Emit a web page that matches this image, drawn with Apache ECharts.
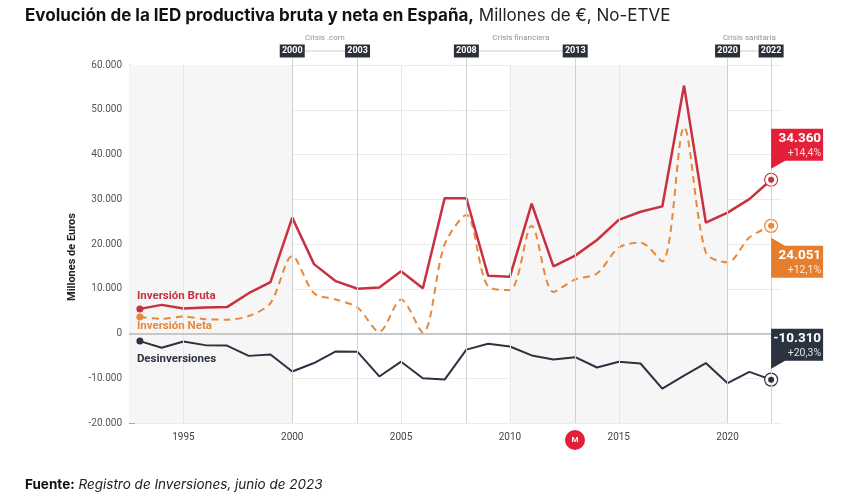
<!DOCTYPE html>
<html>
<head>
<meta charset="utf-8">
<script src="https://cdn.jsdelivr.net/npm/echarts@6/dist/echarts.min.js"></script>
<style>
html, body { margin: 0; padding: 0; background: #fff; }
#chart { width: 849px; height: 501px; }
</style>
</head>
<body>
<div id="chart"></div>
<script>
/** --------datos (millones de euros) ------ */
var years = [1993, 1994, 1995, 1996, 1997, 1998, 1999, 2000, 2001, 2002,
    2003, 2004, 2005, 2006, 2007, 2008, 2009, 2010, 2011, 2012,
    2013, 2014, 2015, 2016, 2017, 2018, 2019, 2020, 2021, 2022];
var bruta = [5500, 6400, 5600, 5800, 5900, 9000, 11500, 25900, 15500, 11700,
    10000, 10300, 13900, 10100, 30200, 30200, 12900, 12700, 29000, 15000,
    17400, 20900, 25400, 27200, 28400, 55400, 24800, 27000, 30035, 34360];
var neta = [3700, 3300, 3800, 3200, 3100, 3900, 6800, 17300, 9000, 7600,
    5800, 400, 7600, 200, 19900, 26500, 10500, 9700, 24100, 9300,
    12100, 13400, 19200, 20300, 16100, 46100, 18100, 15900, 21455, 24051];
var desinversiones = [-1700, -3200, -1800, -2600, -2700, -5000, -4700, -8500, -6600, -4000,
    -4100, -9600, -6300, -10000, -10300, -3600, -2300, -2900, -4900, -5800,
    -5300, -7600, -6300, -6700, -12300, -9400, -6600, -11100, -8570, -10310];
var variacion = ['+14,4%', '+12,1%', '+20,3%'];

var xTicks = [1995, 2000, 2005, 2010, 2015, 2020];
var gridYears = [1995, 2005, 2010, 2015];
var eventYears = [2000, 2003, 2008, 2013, 2020, 2022];
var crisisNames = ['Crisis .com', 'Crisis financiera', 'Crisis sanitaria'];
var crisisStart = [2000, 2008, 2020];
var crisisEnd = [2003, 2013, 2022];
var crisisMid = [2001.5, 2010.5, 2021];
var shadedDecades = [[1992.501, 2000], [2010, 2020]];

var ROJO = '#c8313f', ROJO_CAJA = '#e2203a';
var NARANJA = '#e8883a', NARANJA_CAJA = '#e67e2e';
var OSCURO = '#2b3240';
var FONT = 'Roboto';

function fmtNum(v) {
    var s = String(Math.abs(Math.round(v))).replace(/\B(?=(\d{3})+(?!\d))/g, '.');
    return (v < 0 ? '-' : '') + s;
}

function pairs(arr) {
    var out = [];
    for (var i = 0; i < arr.length; i++) {
        out.push([years[i], arr[i]]);
    }
    return out;
}

/** --------datos de la serie con primer y ultimo punto marcados ------ */
function lineData(arr, color) {
    var d = pairs(arr);
    d[0] = { value: d[0], symbol: 'circle', symbolSize: 7, itemStyle: { color: color } };
    var n = d.length - 1;
    d[n] = {
        value: d[n], symbol: 'circle', symbolSize: 13,
        itemStyle: { color: '#fff', borderColor: color, borderWidth: 1.2, opacity: 1 }
    };
    return d;
}

// forma de la caja con pico abajo / arriba
var CAJA_ABAJO = 'path://M0,0 L52,0 L52,32 L14,32 L0,40 Z';
var CAJA_ARRIBA = 'path://M0,0 L14,8 L52,8 L52,40 L0,40 Z';

function markers(arr, color, cajaColor, idx, nombre, nombreOffset, up) {
    var last = arr.length - 1;
    var lastCoord = [years[last], arr[last]];
    return {
        silent: true,
        animation: false,
        data: [
            {   // punto interior
                coord: lastCoord, symbol: 'circle', symbolSize: 6,
                itemStyle: { color: color }, label: { show: false }
            },
            {   // caja con valor final
                coord: lastCoord,
                symbol: up ? CAJA_ARRIBA : CAJA_ABAJO,
                symbolSize: [52, 40],
                symbolOffset: up ? [26, 32] : [26, -31],
                itemStyle: { color: cajaColor },
                label: {
                    show: true,
                    position: up ? [50, 10] : [50, 2],
                    align: 'right',
                    verticalAlign: 'top',
                    formatter: '{a|' + fmtNum(arr[last]) + '}\n{b|' + variacion[idx] + '}',
                    rich: {
                        a: { fontFamily: FONT, fontSize: 13.5, fontWeight: 'bold', color: '#fff', lineHeight: 16, align: 'right' },
                        b: { fontFamily: FONT, fontSize: 10.5, color: 'rgba(255,255,255,0.85)', lineHeight: 13, align: 'right' }
                    }
                }
            },
            {   // nombre de la serie al inicio
                coord: [years[0], arr[0]], symbol: 'circle', symbolSize: 1,
                itemStyle: { color: 'rgba(0,0,0,0)' },
                label: {
                    show: true, position: 'inside', align: 'left', verticalAlign: 'middle',
                    offset: nombreOffset, formatter: nombre,
                    fontFamily: FONT, fontSize: 11.5, fontWeight: 'bold', color: color
                }
            }
        ]
    };
}

/** --------lineas de fondo ------ */
function fondoSeries() {
    var areas = [];
    for (var i = 0; i < shadedDecades.length; i++) {
        areas.push([{ xAxis: shadedDecades[i][0] }, { xAxis: shadedDecades[i][1] }]);
    }
    var lines = [];
    for (var j = 0; j < gridYears.length; j++) {
        lines.push({ xAxis: gridYears[j], lineStyle: { color: '#e8e8e8', width: 1, type: 'solid' } });
    }
    for (var k = 0; k < eventYears.length; k++) {
        lines.push({ xAxis: eventYears[k], lineStyle: { color: '#d2d2d2', width: 1, type: 'solid' } });
    }
    lines.push({ yAxis: 0, lineStyle: { color: '#b8b8b8', width: 1.5, type: 'solid' } });
    return {
        name: 'fondo', type: 'line', data: [], z: 1, silent: true,
        markArea: { silent: true, itemStyle: { color: '#f6f6f6' }, data: areas },
        markLine: { silent: true, symbol: 'none', label: { show: false }, animation: false, data: lines }
    };
}

/** --------anotaciones de crisis (rejilla superior) ------ */
function crisisSeries() {
    var out = [];
    for (var i = 0; i < crisisNames.length; i++) {
        out.push({
            type: 'line', xAxisIndex: 1, yAxisIndex: 1, symbol: 'none', silent: true,
            data: [[crisisStart[i], 0.4], [crisisEnd[i], 0.4]],
            lineStyle: { color: '#9a9a9a', width: 1, type: 'dotted' }, z: 3
        });
    }
    var cajas = [], bajadas = [];
    for (var j = 0; j < eventYears.length; j++) {
        cajas.push([eventYears[j], 0.4]);
        bajadas.push([{ coord: [eventYears[j], 0] }, { coord: [eventYears[j], 0.2] }]);
    }
    out.push({
        type: 'scatter', xAxisIndex: 1, yAxisIndex: 1, silent: true, z: 5,
        data: cajas, symbol: 'rect', symbolSize: [25, 13],
        itemStyle: { color: '#2a2f3a', opacity: 1 },
        label: {
            show: true, position: 'inside', color: '#fff', fontFamily: FONT,
            fontSize: 9, fontWeight: 'bold',
            formatter: function (p) { return p.value[0]; }
        },
        markLine: {
            silent: true, symbol: 'none', label: { show: false }, animation: false,
            lineStyle: { color: '#d2d2d2', width: 1, type: 'solid' }, data: bajadas
        }
    });
    var nombres = [];
    for (var k = 0; k < crisisNames.length; k++) {
        nombres.push({ value: [crisisMid[k], 0.78], name: crisisNames[k] });
    }
    out.push({
        type: 'scatter', xAxisIndex: 1, yAxisIndex: 1, silent: true,
        data: nombres, symbolSize: 1, itemStyle: { color: 'rgba(0,0,0,0)' },
        label: {
            show: true, position: 'inside', color: '#777', fontFamily: FONT, fontSize: 8,
            formatter: function (p) { return p.name; }
        }
    });
    return out;
}

/** --------grafico ------ */
var chart = echarts.init(document.getElementById('chart'), null, { renderer: 'canvas' });

var series = [fondoSeries()];
series.push({
    name: 'Inversión Bruta', type: 'line', data: lineData(bruta, ROJO), symbol: 'none',
    lineStyle: { color: ROJO, width: 2.5 }, itemStyle: { color: ROJO }, z: 4,
    markPoint: markers(bruta, ROJO, ROJO_CAJA, 0, 'Inversión Bruta', [-3, -13], false)
});
series.push({
    name: 'Inversión Neta', type: 'line', data: lineData(neta, NARANJA), symbol: 'none',
    smooth: 0.3,
    lineStyle: { color: NARANJA, width: 2, type: [7, 5] }, itemStyle: { color: NARANJA }, z: 3,
    markPoint: markers(neta, NARANJA, NARANJA_CAJA, 1, 'Inversión Neta', [-3, 9], true)
});
series.push({
    name: 'Desinversiones', type: 'line', data: lineData(desinversiones, OSCURO), symbol: 'none',
    lineStyle: { color: OSCURO, width: 2 }, itemStyle: { color: OSCURO }, z: 3,
    markPoint: markers(desinversiones, OSCURO, OSCURO, 2, 'Desinversiones', [-3, 18], false)
});
series = series.concat(crisisSeries());

var option = {
    animation: false,
    backgroundColor: '#fff',
    title: [{
        left: 20, top: 2,
        text: '{b|Evolución de la IED productiva bruta y neta en España,}{n| Millones de €, No-ETVE}',
        textStyle: {
            rich: {
                b: { fontFamily: 'Inter', fontSize: 17, fontWeight: 'bold', color: '#111' },
                n: { fontFamily: 'Inter', fontSize: 17, fontWeight: 'normal', color: '#222' }
            }
        }
    }, {
        left: 20, top: 473,
        text: '{b|Fuente:}{i| Registro de Inversiones, junio de 2023}',
        textStyle: {
            rich: {
                b: { fontFamily: 'Inter', fontSize: 13.5, fontWeight: 'bold', color: '#111' },
                i: { fontFamily: 'Inter', fontSize: 13.5, fontWeight: 'normal', fontStyle: 'italic', color: '#222' }
            }
        }
    }],
    grid: [
        { left: 129, right: 67, top: 65, bottom: 78, containLabel: false },
        { left: 129, right: 67, top: 30, height: 35, containLabel: false }
    ],
    xAxis: [{
        type: 'value', gridIndex: 0, min: 1992.5, max: 2022.5,
        axisLine: { show: false }, axisTick: { show: false }, splitLine: { show: false },
        axisLabel: {
            customValues: xTicks, color: '#444', fontFamily: FONT, fontSize: 10, margin: 9,
            formatter: function (v) { return String(v); }
        }
    }, {
        type: 'value', gridIndex: 1, min: 1992.5, max: 2022.5, show: false
    }],
    yAxis: [{
        type: 'value', gridIndex: 0, min: -20000, max: 60000, interval: 10000,
        name: 'Millones de Euros', nameLocation: 'middle', nameGap: 40,
        nameTextStyle: { fontFamily: FONT, fontSize: 11, fontWeight: 'bold', color: '#222', padding: [0, 26, 0, 0] },
        axisLine: { show: true, lineStyle: { color: '#a8a8a8', width: 1 } },
        axisTick: { show: true, inside: true, length: 6, lineStyle: { color: '#a8a8a8' } },
        axisLabel: {
            color: '#555', fontFamily: FONT, fontSize: 10, margin: 7,
            formatter: function (v) { return fmtNum(v); }
        },
        splitLine: { show: true, lineStyle: { color: '#ececec', width: 1 } }
    }, {
        type: 'value', gridIndex: 1, min: 0, max: 1, show: false
    }],
    graphic: [{
        type: 'group', left: 565, top: 430, silent: true,
        children: [
            { type: 'circle', shape: { cx: 10, cy: 10, r: 10 }, style: { fill: '#e2203a' } },
            { type: 'text', style: { x: 10, y: 10, text: 'M', fill: '#fff', font: 'bold 8px Roboto', align: 'center', verticalAlign: 'middle' } }
        ]
    }],
    series: series
};

chart.setOption(option);

window.onresize = function () {
    chart.resize();
};
</script>
</body>
</html>
